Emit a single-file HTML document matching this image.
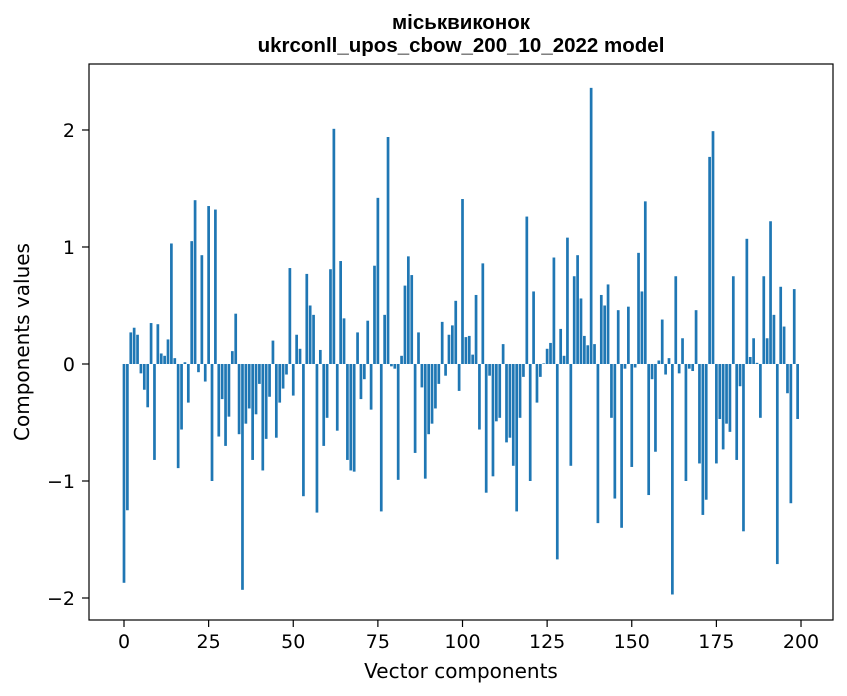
<!DOCTYPE html>
<html><head><meta charset="utf-8"><style>
body{margin:0;background:#fff;}
svg{display:block;font-family:"DejaVu Sans","Liberation Sans",sans-serif;}
</style></head><body>
<svg id="chart" width="847" height="696" viewBox="0 0 847 696">
<rect x="0" y="0" width="847" height="696" fill="#fff"/>
<text x="461" y="29" text-anchor="middle" font-size="20.5" font-weight="bold" font-family="Liberation Sans, sans-serif">міськвиконок</text>
<text x="461" y="52" text-anchor="middle" font-size="20.5" font-weight="bold" font-family="Liberation Sans, sans-serif">ukrconll_upos_cbow_200_10_2022 model</text>
<g id="bars"></g>
<g id="xticks"></g>
<g id="yticks"></g>
<rect x="89" y="64" width="744" height="556" fill="none" stroke="#000" stroke-width="1.2"/>
<text x="461" y="678" text-anchor="middle" font-size="20">Vector components</text>
<text transform="translate(29,342) rotate(-90)" text-anchor="middle" font-size="20">Components values</text>
</svg>
<script>
const values = [-1.87,-1.25,0.27,0.31,0.25,-0.08,-0.22,-0.37,0.35,-0.82,0.34,0.09,0.07,0.21,1.03,0.05,-0.89,-0.56,0.015,-0.33,
1.05,1.40,-0.07,0.93,-0.15,1.35,-1.00,1.32,-0.62,-0.30,-0.70,-0.45,0.11,0.43,-0.60,-1.93,-0.51,-0.38,-0.82,-0.43,
-0.17,-0.91,-0.64,-0.28,0.20,-0.63,-0.33,-0.21,-0.09,0.82,-0.27,0.25,0.13,-1.13,0.77,0.50,0.42,-1.27,0.12,-0.70,
-0.46,0.81,2.01,-0.57,0.88,0.39,-0.82,-0.91,-0.92,0.27,-0.30,-0.13,0.37,-0.39,0.84,1.42,-1.26,0.42,1.94,-0.02,
-0.04,-0.99,0.07,0.67,0.92,0.76,-0.76,0.27,-0.20,-0.98,-0.60,-0.51,-0.38,-0.17,0.36,-0.10,0.25,0.33,0.54,-0.23,
1.41,0.23,0.24,0.08,0.59,-0.56,0.86,-1.10,-0.10,-0.96,-0.49,-0.46,0.17,-0.67,-0.63,-0.87,-1.26,-0.46,-0.11,1.26,
-1.00,0.62,-0.33,-0.11,0.005,0.13,0.18,0.91,-1.67,0.30,0.07,1.08,-0.87,0.75,0.93,0.56,0.24,0.16,2.36,0.17,
-1.36,0.59,0.50,0.68,-0.46,-1.15,0.46,-1.40,-0.04,0.49,-0.88,-0.03,0.95,0.62,1.39,-1.12,-0.13,-0.75,0.03,0.38,
-0.09,0.05,-1.97,0.75,-0.08,0.22,-1.00,-0.04,-0.06,0.46,-0.85,-1.29,-1.16,1.77,1.99,-0.85,-0.47,-0.73,-0.51,-0.58,
0.75,-0.82,-0.19,-1.43,1.07,0.06,0.22,0.01,-0.46,0.75,0.22,1.22,0.42,-1.71,0.66,0.32,-0.25,-1.19,0.64,-0.47];
const xTickLabels = [0,25,50,75,100,125,150,175,200];
const yTickLabels = [-2,-1,0,1,2];
const xMin=-10.34, xMax=209.45, yMin=-2.188, yMax=2.564;
const L=89,R=833,T=64,B=620;
const NS='http://www.w3.org/2000/svg';
function sx(v){return L+(v-xMin)/(xMax-xMin)*(R-L);}
function sy(v){return B-(v-yMin)/(yMax-yMin)*(B-T);}
const bw=(sx(1)-sx(0))*0.8;
const gb=document.getElementById('bars');
values.forEach((v,i)=>{
  const r=document.createElementNS(NS,'rect');
  const y0=sy(0),y1=sy(v);
  r.setAttribute('x',sx(i)-bw/2);
  r.setAttribute('y',Math.min(y0,y1));
  r.setAttribute('width',bw);
  r.setAttribute('height',Math.abs(y1-y0));
  r.setAttribute('fill','#1f77b4');
  
  
  gb.appendChild(r);
});
const gx=document.getElementById('xticks');
xTickLabels.forEach(t=>{
  const x=sx(t);
  const l=document.createElementNS(NS,'line');
  l.setAttribute('x1',x);l.setAttribute('x2',x);l.setAttribute('y1',B);l.setAttribute('y2',B+7);
  l.setAttribute('stroke','#000');l.setAttribute('stroke-width','1.2');
  
  
  gx.appendChild(l);
  const tx=document.createElementNS(NS,'text');
  tx.setAttribute('x',x);tx.setAttribute('y',B+28);tx.setAttribute('text-anchor','middle');tx.setAttribute('font-size','19');
  tx.textContent=t;
  
  
  gx.appendChild(tx);
});
const gy=document.getElementById('yticks');
yTickLabels.forEach(t=>{
  const y=sy(t);
  const l=document.createElementNS(NS,'line');
  l.setAttribute('x1',L-7);l.setAttribute('x2',L);l.setAttribute('y1',y);l.setAttribute('y2',y);
  l.setAttribute('stroke','#000');l.setAttribute('stroke-width','1.2');
  
  
  gy.appendChild(l);
  const tx=document.createElementNS(NS,'text');
  tx.setAttribute('x',L-14);tx.setAttribute('y',y+7);tx.setAttribute('text-anchor','end');tx.setAttribute('font-size','19');
  tx.textContent=t<0?'\u2212'+Math.abs(t):String(t);
  
  
  gy.appendChild(tx);
});
</script>
</body></html>
